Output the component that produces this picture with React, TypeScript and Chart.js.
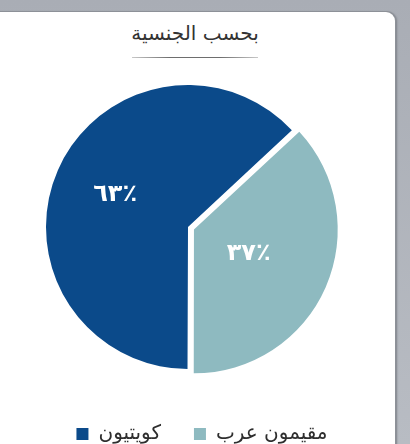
import { useEffect, useRef } from "react";
import Chart from "chart.js/auto";

const titleText = "بحسب الجنسية";
const categories = ["مقيمون عرب", "كويتيون"];
const values = [37, 63];
const valueLabels = ["٣٧٪", "٦٣٪"];
const sliceColors = ["#8ebac0", "#0b4a8a"];
const sliceOffsets = [26, 0];
const labelRadiusFrac = [0.42, 0.56];

export default function App() {
  const ref = useRef<HTMLCanvasElement | null>(null);

  useEffect(() => {
    document.body.style.margin = "0";
    const canvas = ref.current;
    if (!canvas) return;

    const sliceLabels = {
      id: "sliceLabels",
      afterDatasetsDraw(chart: any) {
        const ctx = chart.ctx;
        const meta = chart.getDatasetMeta(0);
        ctx.save();
        ctx.fillStyle = "#ffffff";
        ctx.font = "bold 24px 'DejaVu Sans'";
        ctx.textAlign = "center";
        ctx.textBaseline = "middle";
        meta.data.forEach((arc: any, i: number) => {
          const p = arc.getProps(["x", "y", "startAngle", "endAngle", "outerRadius"], true);
          const mid = (p.startAngle + p.endAngle) / 2;
          const r = sliceOffsets[i] / 4 + p.outerRadius * labelRadiusFrac[i];
          ctx.fillText(valueLabels[i], p.x + Math.cos(mid) * r, p.y + Math.sin(mid) * r);
        });
        ctx.restore();
      },
    };

    const legendShift = {
      id: "legendShift",
      afterLayout(chart: any) {
        const l = chart.legend;
        if (l) {
          l.left += 14;
          l.right += 14;
        }
      },
    };

    const chart = new Chart(canvas, {
      type: "pie",
      data: {
        labels: categories,
        datasets: [
          {
            data: values,
            backgroundColor: sliceColors,
            borderWidth: 0,
            offset: sliceOffsets,
          },
        ],
      },
      options: {
        animation: false,
        responsive: true,
        maintainAspectRatio: false,
        rotation: 47,
        radius: 142,
        layout: { padding: 0 },
        plugins: {
          legend: {
            position: "bottom",
            reverse: true,
            labels: {
              boxWidth: 12,
              boxHeight: 12,
              padding: 33,
              color: "#2e2e2e",
              font: { family: "'DejaVu Sans'", size: 20 },
            },
          },
          tooltip: { enabled: false },
        },
      },
      plugins: [sliceLabels, legendShift],
    });
    return () => chart.destroy();
  }, []);

  return (
    <div
      style={{
        position: "fixed",
        inset: 0,
        overflow: "hidden",
        background: "linear-gradient(#a9adb5, #b8bcc3)",
      }}
    >
      <div
        style={{
          position: "absolute",
          left: -12,
          top: 12,
          width: 407,
          height: 460,
          background: "#ffffff",
          borderRadius: 9,
          boxShadow: "1px -1px 0 #8d9198, 2px 0 2px #7f838a",
        }}
      />
      <div
        style={{
          position: "absolute",
          left: 95,
          width: 200,
          top: 21,
          textAlign: "center",
          fontFamily: "'DejaVu Sans'",
          fontSize: 20,
          color: "#333333",
          direction: "rtl",
        }}
      >
        {titleText}
      </div>
      <div
        style={{
          position: "absolute",
          left: 132,
          width: 126,
          top: 57,
          height: 1,
          background: "linear-gradient(90deg, #c8c8c8, #6e6e6e 30%, #6e6e6e 70%, #c8c8c8)",
        }}
      />
      <div
        style={{
          position: "absolute",
          left: 0,
          top: 63,
          width: 376,
          height: 391,
        }}
      >
        <canvas ref={ref} />
      </div>
    </div>
  );
}
